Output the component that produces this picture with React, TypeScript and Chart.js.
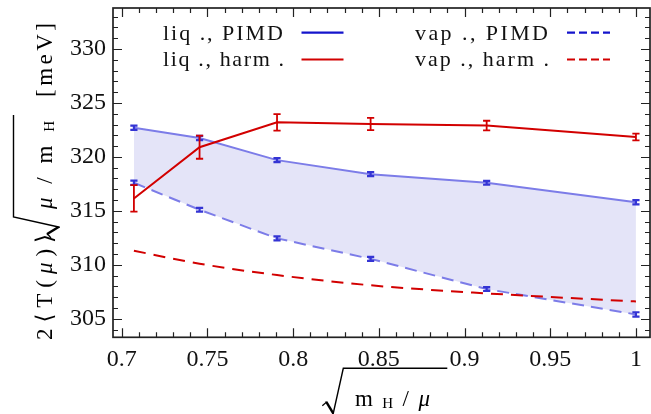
import { useEffect, useRef } from "react";
import { Chart, registerables } from "chart.js";

Chart.register(...registerables);

// ---- data ----
const xValues = [0.7071, 0.7454, 0.7906, 0.8452, 0.9129, 1.0];
const liqPIMD = [322.7, 321.75, 319.7, 318.4, 317.6, 315.8];
const liqPIMDErr = [0.2, 0.2, 0.18, 0.18, 0.18, 0.2];
const vapPIMD = [317.6, 315.1, 312.45, 310.55, 307.75, 305.4];
const vapPIMDErr = [0.2, 0.18, 0.18, 0.18, 0.18, 0.2];
const liqHarm = [316.15, 320.9, 323.2, 323.05, 322.9, 321.85];
const liqHarmErr = [1.23, 1.07, 0.77, 0.57, 0.45, 0.31];
const vapHarm = [311.3, 310.1, 309.05, 308.1, 307.35, 306.6];

const xTickValues = [0.7, 0.75, 0.8, 0.85, 0.9, 0.95, 1.0];
const xTickLabels = ["0.7", "0.75", "0.8", "0.85", "0.9", "0.95", "1"];
const yTickValues = [305, 310, 315, 320, 325, 330];
const yTickLabels = ["305", "310", "315", "320", "325", "330"];
const legendLabels = ["liq ., PIMD", "liq ., harm .", "vap ., PIMD", "vap ., harm ."];

const X_MIN = 0.6949;
const X_MAX = 1.0082;
const Y_MIN = 303.28;
const Y_MAX = 333.8;
const X_MINOR = 0.01;
const Y_MINOR = 1;

const FONT = "'Liberation Serif','DejaVu Serif',serif";
const BLUE_LINE = "#7c7ce8";
const BLUE_ERR = "#3434d4";
const BLUE_LEG = "#1414cc";
const RED = "#d20000";
const FILL = "#e4e4f8";

type Piece = { t: string; font: string; dy?: number };

function drawPieces(ctx: CanvasRenderingContext2D, pieces: Piece[], x0: number, y: number, width: number) {
  const ws = pieces.map((p) => {
    ctx.font = p.font;
    return ctx.measureText(p.t).width;
  });
  const total = ws.reduce((a, b) => a + b, 0);
  const gap = pieces.length > 1 ? (width - total) / (pieces.length - 1) : 0;
  let x = x0;
  pieces.forEach((p, i) => {
    ctx.font = p.font;
    ctx.fillText(p.t, x, y + (p.dy || 0));
    x += ws[i] + gap;
  });
}

function charPieces(text: string, font: string): Piece[] {
  return [...text].map((c) => ({ t: c, font }));
}

function radical(ctx: CanvasRenderingContext2D, px: number, py: number, len: number) {
  ctx.save();
  ctx.strokeStyle = "#000";
  ctx.fillStyle = "#000";
  ctx.lineJoin = "miter";
  ctx.beginPath();
  ctx.lineWidth = 1.2;
  ctx.moveTo(px - 21, py + 37.5);
  ctx.lineTo(px - 17.5, py + 34.5);
  ctx.stroke();
  ctx.beginPath();
  ctx.moveTo(px - 18.5, py + 33.5);
  ctx.lineTo(px - 16, py + 33);
  ctx.lineTo(px - 9.3, py + 44);
  ctx.lineTo(px - 10.6, py + 46.5);
  ctx.closePath();
  ctx.fill();
  ctx.beginPath();
  ctx.lineWidth = 1.4;
  ctx.moveTo(px - 10.3, py + 46.2);
  ctx.lineTo(px, py);
  ctx.lineTo(px + len, py);
  ctx.stroke();
  ctx.restore();
}

const framePlugin = {
  id: "frameTicks",
  afterDraw(chart: any) {
    const { ctx, chartArea: a, scales } = chart;
    const xs = scales.x;
    const ys = scales.y;
    ctx.save();
    ctx.strokeStyle = "#222";
    ctx.lineWidth = 1.2;
    const majorLen = 9;
    const minorLen = 5;
    const x0 = Math.ceil(X_MIN / X_MINOR - 1e-6);
    const x1 = Math.floor(X_MAX / X_MINOR + 1e-6);
    for (let k = x0; k <= x1; k++) {
      const v = k * X_MINOR;
      const isMajor = xTickValues.some((t) => Math.abs(t - v) < 1e-6);
      const len = isMajor ? majorLen : minorLen;
      const px = Math.round(xs.getPixelForValue(v)) + 0.5;
      ctx.beginPath();
      ctx.moveTo(px, a.bottom);
      ctx.lineTo(px, a.bottom - len);
      ctx.moveTo(px, a.top);
      ctx.lineTo(px, a.top + len);
      ctx.stroke();
    }
    const y0 = Math.ceil(Y_MIN / Y_MINOR - 1e-6);
    const y1 = Math.floor(Y_MAX / Y_MINOR + 1e-6);
    for (let k = y0; k <= y1; k++) {
      const v = k * Y_MINOR;
      const isMajor = yTickValues.some((t) => Math.abs(t - v) < 1e-6);
      const len = isMajor ? majorLen : minorLen;
      const py = Math.round(ys.getPixelForValue(v)) + 0.5;
      ctx.beginPath();
      ctx.moveTo(a.left, py);
      ctx.lineTo(a.left + len, py);
      ctx.moveTo(a.right, py);
      ctx.lineTo(a.right - len, py);
      ctx.stroke();
    }
    ctx.lineWidth = 1.7;
    ctx.strokeStyle = "#222";
    ctx.strokeRect(a.left, a.top, a.right - a.left, a.bottom - a.top);

    // legend
    const lf = `22px ${FONT}`;
    ctx.fillStyle = "#111";
    ctx.textAlign = "left";
    ctx.textBaseline = "alphabetic";
    const rows = [39.5, 66];
    const lineY = [32.7, 59.5];
    drawPieces(ctx, charPieces(legendLabels[0], lf), 163, rows[0], 120);
    drawPieces(ctx, charPieces(legendLabels[1], lf), 163, rows[1], 121);
    drawPieces(ctx, charPieces(legendLabels[2], lf), 415, rows[0], 133);
    drawPieces(ctx, charPieces(legendLabels[3], lf), 415, rows[1], 134);
    ctx.lineWidth = 2.2;
    ctx.setLineDash([]);
    ctx.strokeStyle = BLUE_LEG;
    ctx.beginPath();
    ctx.moveTo(301.5, lineY[0]);
    ctx.lineTo(343.5, lineY[0]);
    ctx.stroke();
    ctx.strokeStyle = RED;
    ctx.beginPath();
    ctx.moveTo(301.5, lineY[1]);
    ctx.lineTo(343.5, lineY[1]);
    ctx.stroke();
    ctx.setLineDash([8, 4]);
    ctx.strokeStyle = BLUE_LEG;
    ctx.beginPath();
    ctx.moveTo(567, lineY[0]);
    ctx.lineTo(610, lineY[0]);
    ctx.stroke();
    ctx.strokeStyle = RED;
    ctx.beginPath();
    ctx.moveTo(567, lineY[1]);
    ctx.lineTo(610, lineY[1]);
    ctx.stroke();
    ctx.setLineDash([]);

    // x title: sqrt(m_H / mu)
    const tf = `23px ${FONT}`;
    const tfi = `italic 23px ${FONT}`;
    const sf = `15px ${FONT}`;
    ctx.fillStyle = "#000";
    radical(ctx, 343.3, 368.3, 104);
    drawPieces(
      ctx,
      [
        { t: "m", font: tf },
        { t: "H", font: sf, dy: 2 },
        { t: "/", font: tf },
        { t: "μ", font: tfi },
      ],
      355,
      406,
      75
    );

    // y title (rotated)
    ctx.save();
    ctx.translate(0, 414);
    ctx.rotate(-Math.PI / 2);
    drawPieces(
      ctx,
      [
        { t: "2", font: tf },
        { t: "⟨", font: tf },
        { t: "T", font: tf },
        { t: "(", font: tf },
        { t: "μ", font: tfi },
        { t: ")", font: tf },
        { t: "⟩", font: tf },
      ],
      74,
      52,
      106
    );
    radical(ctx, 197, 13.5, 102);
    drawPieces(
      ctx,
      [
        { t: "μ", font: tfi },
        { t: "/", font: tf },
        { t: "m", font: tf },
        { t: "H", font: sf, dy: 2 },
      ],
      205,
      51.5,
      88
    );
    drawPieces(ctx, charPieces("[meV]", tf), 317, 52, 74);
    ctx.restore();
    ctx.restore();
  },
};

const errorBarPlugin = {
  id: "errorBars",
  afterDatasetsDraw(chart: any) {
    const { ctx, scales } = chart;
    const xs = scales.x;
    const ys = scales.y;
    const series: [number[], number[], string, number][] = [
      [liqPIMD, liqPIMDErr, BLUE_ERR, 2.2],
      [vapPIMD, vapPIMDErr, BLUE_ERR, 2.2],
      [liqHarm, liqHarmErr, RED, 1.8],
    ];
    ctx.save();
    ctx.setLineDash([]);
    for (const [vals, errs, color, lw] of series) {
      ctx.strokeStyle = color;
      ctx.lineWidth = lw;
      vals.forEach((v, i) => {
        const px = xs.getPixelForValue(xValues[i]);
        const pt = ys.getPixelForValue(v + errs[i]);
        const pb = ys.getPixelForValue(v - errs[i]);
        ctx.beginPath();
        ctx.moveTo(px, pt);
        ctx.lineTo(px, pb);
        ctx.moveTo(px - 3.6, pt);
        ctx.lineTo(px + 3.6, pt);
        ctx.moveTo(px - 3.6, pb);
        ctx.lineTo(px + 3.6, pb);
        ctx.stroke();
      });
    }
    ctx.restore();
  },
};

const pts = (ys: number[]) => xValues.map((x, i) => ({ x, y: ys[i] }));

const zeroPad = (s: any) => {
  s.paddingTop = 0;
  s.paddingBottom = 0;
  s.paddingLeft = 0;
  s.paddingRight = 0;
};

export default function App() {
  const ref = useRef<HTMLCanvasElement | null>(null);
  useEffect(() => {
    if (!ref.current) return;
    const chart = new Chart(ref.current, {
      type: "line",
      data: {
        datasets: [
          {
            label: legendLabels[0],
            data: pts(liqPIMD),
            borderColor: BLUE_LINE,
            borderWidth: 2,
            pointRadius: 0,
            fill: { target: 1 },
            backgroundColor: FILL,
            order: 3,
          },
          {
            label: legendLabels[2],
            data: pts(vapPIMD),
            borderColor: BLUE_LINE,
            borderWidth: 2,
            borderDash: [12, 7],
            pointRadius: 0,
            fill: false,
            order: 2,
          },
          {
            label: legendLabels[1],
            data: pts(liqHarm),
            borderColor: RED,
            borderWidth: 2,
            pointRadius: 0,
            fill: false,
            order: 1,
          },
          {
            label: legendLabels[3],
            data: pts(vapHarm),
            borderColor: RED,
            borderWidth: 2,
            borderDash: [12, 8],
            cubicInterpolationMode: "monotone",
            pointRadius: 0,
            fill: false,
            order: 0,
          },
        ] as any,
      },
      options: {
        responsive: false,
        animation: false,
        events: [],
        layout: { padding: { top: 8, right: 1, bottom: 0, left: 0 } },
        plugins: {
          legend: { display: false },
          tooltip: { enabled: false },
          filler: { drawTime: "beforeDatasetsDraw" } as any,
        },
        scales: {
          x: {
            type: "linear",
            min: X_MIN,
            max: X_MAX,
            grid: { display: false, drawTicks: false },
            border: { display: false },
            ticks: {
              font: { family: FONT, size: 24 },
              color: "#111",
              padding: 8,
              maxRotation: 0,
              autoSkip: false,
              callback: (v: any) => {
                const i = xTickValues.findIndex((t) => Math.abs(t - Number(v)) < 1e-6);
                return i >= 0 ? xTickLabels[i] : "";
              },
            },
            afterBuildTicks: (s: any) => {
              s.ticks = xTickValues.map((v) => ({ value: v }));
            },
            afterFit: (s: any) => {
              s.height = 414 - 337.3;
              zeroPad(s);
            },
          },
          y: {
            type: "linear",
            min: Y_MIN,
            max: Y_MAX,
            grid: { display: false, drawTicks: false },
            border: { display: false },
            ticks: {
              font: { family: FONT, size: 24 },
              color: "#111",
              padding: 7,
              autoSkip: false,
              callback: (v: any) => {
                const i = yTickValues.findIndex((t) => Math.abs(t - Number(v)) < 1e-6);
                return i >= 0 ? yTickLabels[i] : "";
              },
            },
            afterBuildTicks: (s: any) => {
              s.ticks = yTickValues.map((v) => ({ value: v }));
            },
            afterFit: (s: any) => {
              s.width = 113;
              zeroPad(s);
            },
          },
        },
      },
      plugins: [errorBarPlugin, framePlugin],
    });
    return () => chart.destroy();
  }, []);
  return (
    <div style={{ position: "fixed", left: 0, top: 0, width: 651, height: 414, background: "#fff" }}>
      <canvas ref={ref} width={651} height={414} style={{ display: "block" }} />
    </div>
  );
}
